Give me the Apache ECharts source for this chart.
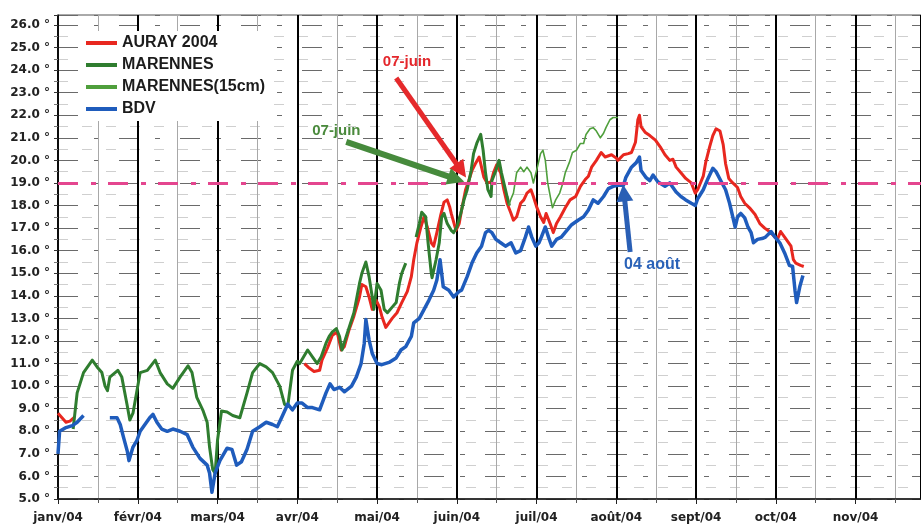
<!DOCTYPE html>
<html>
<head>
<meta charset="utf-8">
<script src="https://cdn.jsdelivr.net/npm/echarts@6/dist/echarts.min.js"></script>
<style>
  html, body { margin: 0; padding: 0; background: #fff; }
  #chart { width: 921px; height: 526px; }
</style>
</head>
<body>
<div id="chart"></div>
<script>
// Water temperature 2004 (°C). Time is counted in months from 1 Jan 2004,
// one unit per month on an evenly spaced monthly axis.
const monthLabels = ['janv/04', 'févr/04', 'mars/04', 'avr/04', 'mai/04', 'juin/04',
                     'juil/04', 'août/04', 'sept/04', 'oct/04', 'nov/04'];

const aurayJan = [[0, 8.8], [0.05, 8.6], [0.10, 8.4], [0.15, 8.45], [0.20, 8.6]];
const auray = [
  [3.09, 11.0], [3.15, 10.8], [3.21, 10.65], [3.28, 10.7], [3.31, 11.15], [3.38, 11.7], [3.44, 12.25],
  [3.50, 12.4], [3.55, 11.6], [3.59, 11.75], [3.65, 12.5], [3.71, 13.1], [3.78, 13.95], [3.81, 14.5],
  [3.86, 14.4], [3.90, 13.95], [3.94, 13.4], [3.99, 13.8], [4.03, 13.5], [4.06, 13.1], [4.11, 12.6],
  [4.13, 12.55], [4.19, 13.0], [4.25, 13.25], [4.31, 13.7], [4.38, 14.2], [4.43, 14.85], [4.46, 15.6],
  [4.50, 16.35], [4.55, 17.05], [4.59, 17.5], [4.63, 17.05], [4.68, 16.35], [4.71, 16.2], [4.75, 16.8],
  [4.80, 17.6], [4.84, 18.15], [4.88, 18.25], [4.91, 17.95], [4.93, 17.65], [4.99, 16.9], [5.03, 17.2],
  [5.06, 17.8], [5.11, 18.7], [5.15, 19.1], [5.19, 19.55], [5.24, 19.9], [5.28, 20.15], [5.31, 19.7],
  [5.34, 19.25], [5.38, 19.0], [5.43, 19.05], [5.46, 19.45], [5.50, 19.8], [5.55, 19.45], [5.59, 18.7],
  [5.63, 18.1], [5.68, 17.65], [5.71, 17.35], [5.75, 17.5], [5.80, 18.1], [5.84, 18.25], [5.88, 18.55],
  [5.93, 18.7], [5.96, 18.4], [6.00, 17.95], [6.05, 17.5], [6.09, 17.25], [6.12, 17.65], [6.17, 17.2],
  [6.21, 16.8], [6.25, 17.2], [6.30, 17.5], [6.36, 17.9], [6.42, 18.25], [6.49, 18.4], [6.55, 18.85],
  [6.61, 19.15], [6.65, 19.3], [6.69, 19.7], [6.75, 20.0], [6.81, 20.35], [6.86, 20.15], [6.94, 20.25],
  [7.00, 20.1], [7.02, 20.0], [7.09, 20.25], [7.15, 20.3], [7.19, 20.35], [7.24, 20.8], [7.27, 21.8],
  [7.29, 22.0], [7.31, 21.5], [7.36, 21.25], [7.42, 21.1], [7.49, 20.9], [7.55, 20.6], [7.61, 20.25],
  [7.67, 20.0], [7.71, 20.05], [7.75, 19.7], [7.81, 19.45], [7.87, 19.2], [7.94, 19.0], [7.99, 18.55],
  [8.02, 18.7], [8.09, 19.3], [8.12, 19.9], [8.17, 20.6], [8.21, 21.1], [8.25, 21.4], [8.30, 21.3],
  [8.34, 20.7], [8.37, 19.85], [8.41, 19.2], [8.46, 19.0], [8.52, 18.8], [8.56, 18.4], [8.61, 18.1],
  [8.67, 17.9], [8.74, 17.6], [8.80, 17.2], [8.86, 17.0], [8.92, 16.85], [8.99, 16.6], [9.02, 16.5],
  [9.06, 16.85], [9.11, 16.6], [9.15, 16.4], [9.19, 16.2], [9.22, 15.6], [9.25, 15.45], [9.31, 15.35],
  [9.35, 15.3]
];

const marennesWinter = [
  [0.19, 8.1], [0.24, 9.7], [0.32, 10.6], [0.43, 11.15], [0.49, 10.85], [0.55, 10.6], [0.59, 10.0],
  [0.62, 9.8], [0.65, 10.4], [0.75, 10.7], [0.80, 10.4], [0.87, 9.1], [0.90, 8.5], [0.94, 8.8],
  [1.03, 10.6], [1.12, 10.7], [1.22, 11.15], [1.28, 10.6], [1.37, 10.1], [1.44, 9.9], [1.53, 10.4],
  [1.63, 10.9], [1.68, 10.6], [1.74, 9.5], [1.82, 8.9], [1.87, 8.4], [1.90, 7.3], [1.94, 6.3],
  [1.97, 6.15], [2.00, 7.6], [2.05, 8.9], [2.12, 8.85], [2.19, 8.7], [2.28, 8.6], [2.37, 9.7],
  [2.44, 10.6], [2.53, 11.0], [2.61, 10.85], [2.69, 10.6], [2.78, 10.0], [2.84, 9.2], [2.88, 9.1],
  [2.94, 10.7], [3.00, 11.1], [3.03, 11.0], [3.13, 11.6], [3.19, 11.3], [3.25, 11.0], [3.30, 11.3],
  [3.36, 11.9], [3.40, 12.2], [3.44, 12.4], [3.49, 12.55], [3.53, 12.2], [3.56, 11.6], [3.60, 12.05],
  [3.65, 12.6], [3.71, 13.25], [3.78, 14.55], [3.81, 15.0], [3.86, 15.5], [3.90, 14.85], [3.94, 13.95],
  [3.96, 13.4], [4.00, 14.55], [4.05, 14.25], [4.09, 13.4], [4.13, 13.25], [4.19, 13.5], [4.24, 13.7],
  [4.28, 14.55], [4.31, 15.0], [4.36, 15.45]
];
const marennesSpring = [
  [4.49, 16.6], [4.53, 17.2], [4.56, 17.7], [4.61, 17.5], [4.64, 16.35], [4.68, 15.0], [4.69, 14.8],
  [4.74, 15.6], [4.78, 16.35], [4.81, 17.5], [4.84, 17.65], [4.88, 17.2], [4.93, 16.9], [4.96, 16.8],
  [5.00, 17.05], [5.05, 17.65], [5.09, 18.25], [5.13, 18.7], [5.18, 19.55], [5.21, 20.3], [5.25, 20.75],
  [5.30, 21.15], [5.33, 20.45], [5.36, 19.45], [5.39, 18.7], [5.43, 18.4], [5.44, 19.1], [5.49, 19.55],
  [5.53, 20.0], [5.56, 19.45], [5.60, 18.85], [5.63, 18.4], [5.66, 18.0]
];
const marennes15 = [
  [5.65, 18.0], [5.68, 18.3], [5.71, 18.55], [5.75, 19.45], [5.80, 19.7], [5.84, 19.5], [5.88, 19.7],
  [5.93, 19.45], [5.96, 19.0], [6.00, 19.55], [6.05, 20.3], [6.08, 20.45], [6.11, 20.0], [6.14, 19.0],
  [6.18, 18.25], [6.20, 17.9], [6.24, 18.25], [6.29, 18.55], [6.33, 19.0], [6.36, 19.45], [6.41, 19.9],
  [6.45, 20.35], [6.50, 20.45], [6.55, 20.75], [6.59, 20.75], [6.62, 21.15], [6.67, 21.4], [6.71, 21.45],
  [6.75, 21.3], [6.80, 21.0], [6.84, 21.2], [6.87, 21.45], [6.92, 21.8], [6.96, 21.9], [7.02, 21.9]
];

const bdvJan = [[0, 7.0], [0.02, 8.0], [0.09, 8.15], [0.18, 8.25], [0.24, 8.4], [0.32, 8.7]];
const bdv = [
  [0.65, 8.6], [0.74, 8.6], [0.78, 8.3], [0.82, 7.75], [0.87, 7.1], [0.89, 6.7], [0.94, 7.3], [0.99, 7.6],
  [1.03, 8.0], [1.07, 8.2], [1.15, 8.6], [1.19, 8.75], [1.24, 8.4], [1.30, 8.1], [1.37, 8.0], [1.44, 8.1],
  [1.53, 8.0], [1.62, 7.85], [1.69, 7.3], [1.78, 6.8], [1.87, 6.5], [1.90, 6.15], [1.93, 5.3], [1.97, 6.15],
  [2.03, 6.7], [2.12, 7.25], [2.18, 7.2], [2.24, 6.5], [2.30, 6.65], [2.37, 7.2], [2.44, 8.0], [2.53, 8.2],
  [2.61, 8.4], [2.69, 8.3], [2.75, 8.2], [2.81, 8.65], [2.88, 9.2], [2.94, 8.95], [3.00, 9.25], [3.06, 9.25],
  [3.13, 9.05], [3.19, 9.05], [3.28, 8.95], [3.36, 9.7], [3.41, 10.1], [3.46, 9.85], [3.53, 9.95],
  [3.59, 9.75], [3.68, 10.0], [3.74, 10.4], [3.80, 11.0], [3.84, 11.9], [3.86, 12.95], [3.90, 12.05],
  [3.94, 11.45], [4.00, 11.0], [4.06, 10.95], [4.15, 11.05], [4.24, 11.25], [4.30, 11.6], [4.36, 11.75],
  [4.43, 12.2], [4.46, 12.8], [4.53, 13.0], [4.59, 13.4], [4.65, 13.8], [4.71, 14.25], [4.75, 14.7],
  [4.79, 15.6], [4.83, 14.4], [4.90, 14.25], [4.96, 13.95], [5.03, 14.2], [5.06, 14.25], [5.13, 14.85],
  [5.19, 15.45], [5.25, 15.9], [5.31, 16.2], [5.36, 16.8], [5.40, 16.9], [5.44, 16.8], [5.49, 16.5],
  [5.55, 16.35], [5.61, 16.2], [5.68, 16.35], [5.74, 15.9], [5.80, 16.0], [5.86, 16.6], [5.90, 17.05],
  [5.94, 16.6], [5.99, 16.2], [6.03, 16.35], [6.06, 16.6], [6.11, 17.05], [6.15, 16.6], [6.19, 16.2],
  [6.25, 16.5], [6.31, 16.6], [6.38, 16.9], [6.44, 17.15], [6.52, 17.35], [6.59, 17.5], [6.65, 17.8],
  [6.71, 18.25], [6.77, 18.1], [6.84, 18.4], [6.90, 18.75], [6.96, 18.85], [7.02, 18.9], [7.09, 18.9],
  [7.12, 19.25], [7.19, 19.7], [7.25, 19.9], [7.29, 20.15], [7.31, 19.55], [7.37, 19.25], [7.42, 19.1],
  [7.46, 19.35], [7.52, 19.05], [7.61, 18.85], [7.67, 19.0], [7.75, 18.6], [7.81, 18.4], [7.87, 18.25],
  [7.94, 18.1], [7.99, 18.0], [8.02, 18.3], [8.09, 18.7], [8.15, 19.2], [8.21, 19.65], [8.25, 19.5],
  [8.31, 19.1], [8.37, 18.7], [8.42, 18.1], [8.46, 17.5], [8.49, 17.05], [8.52, 17.5], [8.56, 17.65],
  [8.61, 17.45], [8.65, 17.05], [8.69, 16.8], [8.72, 16.35], [8.77, 16.5], [8.84, 16.55], [8.87, 16.6],
  [8.94, 16.85], [8.99, 16.6], [9.05, 16.35], [9.11, 15.9], [9.17, 15.35], [9.21, 15.3], [9.24, 14.25],
  [9.26, 13.7], [9.30, 14.4], [9.34, 14.9]
];

const threshold = 19; // seuil 19 °C

// Joins recorded stretches, leaving a break in the line between them.
function joinSegments(...segments) {
  const out = [];
  segments.forEach((seg, i) => {
    if (i > 0) {
      const prev = segments[i - 1];
      out.push([(prev[prev.length - 1][0] + seg[0][0]) / 2, null]);
    }
    seg.forEach(p => out.push(p));
  });
  return out;
}

const RED = '#e8271f';
const GREEN = '#2f7d2f';
const GREEN_LIGHT = '#4f9f3c';
const BLUE = '#1f5cbc';
const PINK = '#e4468f';

const chart = echarts.init(document.getElementById('chart'), null, { renderer: 'canvas' });

const axisFont = { fontFamily: 'DejaVu Sans', fontWeight: 'bold', fontSize: 12, color: '#222' };

// Call-out arrow drawn in data coordinates, head at the "to" end.
function arrow(color, width, from, to) {
  return {
    silent: true,
    symbol: ['none', 'triangle'],
    symbolSize: 17,
    label: { show: false },
    emphasis: { disabled: true },
    lineStyle: { color: color, width: width, type: 'solid', opacity: 1 },
    itemStyle: { color: color },
    data: [[{ coord: from }, { coord: to }]]
  };
}

const option = {
  animation: false,
  backgroundColor: '#fff',
  grid: {
    left: 58, right: -3, top: 15, bottom: 27,
    show: true, borderColor: '#555', borderWidth: 1, backgroundColor: 'transparent'
  },
  xAxis: {
    type: 'value',
    min: 0,
    max: 10.82,
    interval: 1,
    axisLine: { show: true, onZero: false, lineStyle: { color: '#111', width: 1.5 } },
    axisTick: { show: true, length: 5, lineStyle: { color: '#222' } },
    minorTick: { show: true, splitNumber: 2, length: 4, lineStyle: { color: '#555' } },
    axisLabel: Object.assign({
      margin: 13,
      showMaxLabel: false,
      formatter: v => {
        const i = Math.round(v);
        return Math.abs(v - i) < 1e-6 && monthLabels[i] ? monthLabels[i] : '';
      }
    }, axisFont),
    splitLine: { show: true, lineStyle: { color: '#000', width: 2 } },
    minorSplitLine: { show: true, lineStyle: { color: '#a8a8a8', width: 1 } }
  },
  yAxis: {
    type: 'value',
    min: 5,
    max: 26.44,
    interval: 1,
    axisLine: { show: true, lineStyle: { color: '#111', width: 1.5 } },
    axisTick: { show: true, length: 4, lineStyle: { color: '#333' } },
    minorTick: { show: true, splitNumber: 2, length: 4, lineStyle: { color: '#777' } },
    axisLabel: Object.assign({
      margin: 8,
      showMaxLabel: false,
      formatter: v => (Math.abs(v - Math.round(v)) < 1e-6 ? v.toFixed(1) + ' °' : '')
    }, axisFont),
    splitLine: { show: true, lineStyle: { color: '#6a6a6a', width: 1, type: [20, 16, 5, 20] } },
    minorSplitLine: { show: true, lineStyle: { color: '#cfcfcf', width: 1, type: [10, 14] } }
  },
  legend: {
    orient: 'vertical',
    left: 80,
    top: 31,
    padding: [3, 8, 3, 6],
    backgroundColor: '#fff',
    icon: 'rect',
    itemWidth: 31,
    itemHeight: 4,
    itemGap: 4,
    selectedMode: false,
    textStyle: { fontFamily: 'Liberation Sans', fontWeight: 'bold', fontSize: 16, color: '#1c1c1c', lineHeight: 18 },
    data: ['AURAY 2004', 'MARENNES', 'MARENNES(15cm)', 'BDV']
  },
  series: [
    {
      name: 'seuil',
      type: 'line',
      data: [],
      z: 1,
      markLine: {
        silent: true,
        symbol: 'none',
        label: { show: false },
        emphasis: { disabled: true },
        lineStyle: { color: PINK, width: 3, type: [20, 13, 5, 12], opacity: 1 },
        data: [{ yAxis: threshold }]
      }
    },
    {
      name: 'AURAY 2004',
      type: 'line',
      data: joinSegments(aurayJan, auray),
      showSymbol: false,
      symbol: 'none',
      connectNulls: false,
      z: 2,
      lineStyle: { color: RED, width: 3, join: 'round' },
      itemStyle: { color: RED },
      markLine: arrow('#e5292b', 5, [4.24, 23.65], [5.055, 19.55])
    },
    {
      name: 'MARENNES',
      type: 'line',
      data: joinSegments(marennesWinter, marennesSpring),
      showSymbol: false,
      symbol: 'none',
      connectNulls: false,
      z: 3,
      lineStyle: { color: GREEN, width: 3, join: 'round' },
      itemStyle: { color: GREEN },
      markLine: arrow('#468a3c', 6, [3.614, 20.82], [4.993, 19.17])
    },
    {
      name: 'MARENNES(15cm)',
      type: 'line',
      data: marennes15,
      showSymbol: false,
      symbol: 'none',
      z: 3,
      lineStyle: { color: GREEN_LIGHT, width: 1.6, join: 'round' },
      itemStyle: { color: GREEN_LIGHT }
    },
    {
      name: 'BDV',
      type: 'line',
      data: joinSegments(bdvJan, bdv),
      showSymbol: false,
      symbol: 'none',
      connectNulls: false,
      z: 4,
      lineStyle: { color: BLUE, width: 3.5, join: 'round' },
      itemStyle: { color: BLUE },
      markLine: arrow('#2a5fb5', 5, [7.173, 15.94], [7.096, 18.56])
    }
  ]
};

chart.setOption(option);

// Date call-outs, anchored in data coordinates.
const notes = [
  { text: '07-juin', at: [4.376, 24.36], color: '#e4262b', size: 15 },
  { text: '07-juin', at: [3.49, 21.30], color: '#4a8a3c', size: 15 },
  { text: '04 août', at: [7.448, 15.37], color: '#2a62b8', size: 16 }
];
chart.setOption({
  graphic: notes.map(n => {
    const p = chart.convertToPixel({ gridIndex: 0 }, n.at);
    return {
      type: 'text',
      x: p[0],
      y: p[1],
      z: 100,
      silent: true,
      style: {
        text: n.text,
        fill: n.color,
        font: 'bold ' + n.size + 'px "Liberation Sans"',
        align: 'center',
        verticalAlign: 'middle'
      }
    };
  })
});
</script>
</body>
</html>
